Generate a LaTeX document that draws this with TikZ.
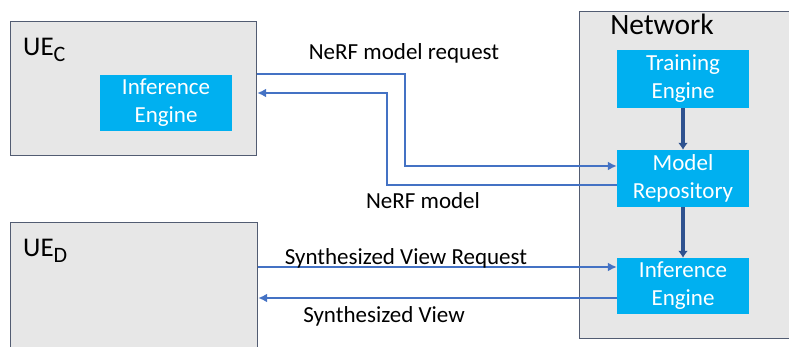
\documentclass[tikz,border=0pt]{standalone}
\usepackage{fontspec}
\setmainfont{Carlito}
\usetikzlibrary{arrows.meta}
\definecolor{panelfill}{HTML}{E7E7E7}
\definecolor{panelline}{HTML}{525C72}
\definecolor{engfill}{HTML}{00B0F0}
\definecolor{linkblue}{HTML}{4472C4}
\definecolor{darkblue}{HTML}{2F528F}
\tikzset{
  panel/.style={draw=panelline, fill=panelfill, line width=1.2pt, inner sep=0pt, anchor=north west},
  engine/.style={fill=engfill, text=white, inner sep=0pt, minimum width=132pt,
    font=\fontsize{23}{28}\selectfont, align=center},
  link/.style={draw=linkblue, line width=1.9pt, -{Latex[length=9pt,width=9pt]}},
  flow/.style={draw=darkblue, line width=3.6pt, -{Latex[length=7pt,width=10pt]}},
  lbl/.style={font=\fontsize{23}{26}\selectfont, inner sep=0pt, text=black},
}
\begin{document}
\begin{tikzpicture}[x=1pt, y=-1pt]
\useasboundingbox (0,0) rectangle (789,347);
\clip (0,0) rectangle (789,347);

% user equipment and network panels
\node[panel, minimum width=246pt, minimum height=134pt] (ueC) at (10,21) {};
\node[panel, minimum width=247pt, minimum height=150pt] (ueD) at (10,222) {};
\node[panel, minimum width=230pt, minimum height=327pt] (net) at (579,11) {};

\node[lbl, font=\fontsize{27}{30}\selectfont, anchor=base west] (ueCname) at (23,56) {UE\textsubscript{\fontsize{22}{24}\selectfont C}};
\node[lbl, font=\fontsize{27}{30}\selectfont, anchor=base west] (ueDname) at (23,257) {UE\textsubscript{\fontsize{22}{24}\selectfont D}};
\node[lbl, font=\fontsize{29.5}{32}\selectfont, anchor=base] (netname) at (662,35) {Network};

% engines
\node[engine, minimum height=56pt] (infC) at (166,103) {Inference\\Engine};
\node[engine, minimum height=58pt] (train) at (683,79) {Training\\Engine};
\node[engine, minimum height=57pt] (repo) at (683,178.5) {Model\\Repository};
\node[engine, minimum height=56pt] (infN) at (683,286) {Inference\\Engine};

% internal network flow
\draw[flow] (train.south) -- (repo.north);
\draw[flow] (repo.south) -- (infN.north);

% NeRF model exchange with UE_C
\draw[link] (ueC.east |- 0,74) -| (405,166) -- (repo.west |- 0,166);
\draw[link] (repo.west |- 0,185) -| (387,93) -- (ueC.east |- 0,93);
\node[lbl, anchor=base] (lreq) at (404,60) {NeRF model request};
\node[lbl, anchor=base] (lmod) at (423,209) {NeRF model};

% synthesized view exchange with UE_D
\draw[link] (ueD.east |- 0,267) -- (infN.west |- 0,267);
\draw[link] (infN.west |- 0,298) -- (ueD.east |- 0,298);
\node[lbl, anchor=base] (lsvr) at (406,265) {Synthesized View Request};
\node[lbl, anchor=base] (lsv) at (384,322) {Synthesized View};
\end{tikzpicture}
\end{document}
